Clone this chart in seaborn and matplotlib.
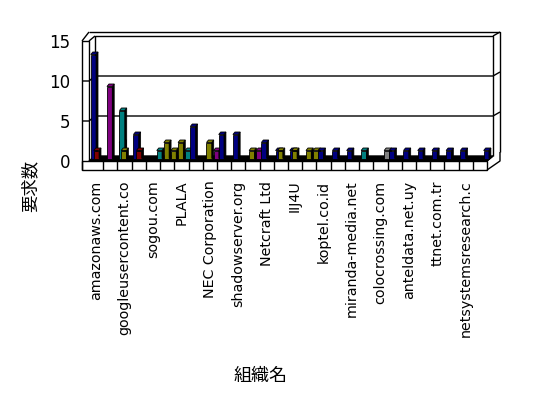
import matplotlib
matplotlib.use("Agg")
import matplotlib.pyplot as plt
import numpy as np
import seaborn as sns
from matplotlib.lines import Line2D
from matplotlib.patches import Polygon, Rectangle
from matplotlib.transforms import ScaledTranslation

# organisation names (only every other one is printed on the axis)
org_labels = ["amazonaws.com", "", "googleusercontent.co", "", "sogou.com", "",
              "PLALA", "", "NEC Corporation", "", "shadowserver.org", "",
              "Netcraft Ltd", "", "IIJ4U", "", "koptel.co.id", "",
              "miranda-media.net", "", "colocrossing.com", "", "anteldata.net.uy", "",
              "ttnet.com.tr", "", "netsystemsresearch.c", ""]

# request counts per organisation, one list per coloured series (0 = no bar)
navy   = [13, 0, 2, 3, 0, 0, 0, 4, 0, 3, 3, 0, 2, 1, 1, 0, 1, 1, 1, 0, 0, 1, 1, 1, 1, 1, 1, 0]
teal   = [0, 0, 6, 0, 0, 0, 0, 0, 0, 0, 0, 0, 0, 0, 0, 0, 0, 0, 0, 1, 0, 0, 0, 0, 0, 0, 0, 0]
purple = [0, 9, 0, 0, 0, 0, 0, 0, 0, 0, 0, 0, 0, 0, 0, 0, 0, 0, 0, 0, 0, 0, 0, 0, 0, 0, 0, 0]
olive  = [0, 0, 1, 0, 0, 2, 2, 0, 2, 0, 0, 1, 0, 1, 1, 1, 0, 0, 0, 0, 0, 0, 0, 0, 0, 0, 0, 0]
maroon = [1, 0, 0, 1, 0, 0, 0, 0, 0, 0, 0, 0, 0, 0, 0, 0, 0, 0, 0, 0, 0, 0, 0, 0, 0, 0, 0, 0]
# second (back) column of some organisations
olive_back  = [0, 0, 0, 0, 0, 1, 0, 0, 0, 0, 0, 0, 0, 0, 0, 1, 0, 0, 0, 0, 0, 0, 0, 0, 0, 0, 0, 0]
teal_back   = [0, 0, 0, 0, 1, 0, 1, 0, 0, 0, 0, 0, 0, 0, 0, 0, 0, 0, 0, 0, 0, 0, 0, 0, 0, 0, 0, 0]
purple_back = [0, 0, 0, 0, 0, 0, 0, 0, 1, 0, 0, 1, 0, 0, 0, 0, 0, 0, 0, 0, 0, 0, 0, 0, 0, 0, 0, 0]
gray_back   = [0, 0, 0, 0, 0, 0, 0, 0, 0, 0, 0, 0, 0, 0, 0, 0, 0, 0, 0, 0, 1, 0, 0, 0, 0, 0, 0, 0]
navy_back   = [0, 0, 0, 0, 0, 0, 0, 0, 0, 0, 0, 0, 0, 0, 0, 0, 0, 0, 0, 0, 0, 0, 0, 0, 0, 0, 0, 1]

y_ticks = [0, 5, 10, 15]

# (values, colour, offset inside the category slot), back columns first
series = [
    (olive_back, "#808000", 0.45), (teal_back, "#008080", 0.45),
    (purple_back, "#800080", 0.45), (gray_back, "#808080", 0.45),
    (navy_back, "#000080", 0.45),
    (navy, "#000080", -0.19), (teal, "#008080", -0.17),
    (purple, "#800080", -0.05), (olive, "#808000", -0.05),
    (maroon, "#800000", 0.02),
]

sns.set_theme(style="white", rc={"text.color": "black", "xtick.color": "black",
                                 "ytick.color": "black", "axes.labelcolor": "black"})
plt.rcParams["font.family"] = ["DejaVu Sans", "Noto Sans CJK JP"]
cjk = ["Noto Sans CJK JP", "DejaVu Sans"]

W, H = 548, 398
fig = plt.figure(figsize=(W / 100, H / 100), dpi=100)
fig.patch.set_facecolor("white")

# front plane of the floor in pixels, value scale of the columns
FX0, FX1 = 89, 487
Y0, PPU = 158.5, 8.0
ax = fig.add_axes([FX0 / W, (H - Y0) / H, (FX1 - FX0) / W, 15 * PPU / H], zorder=2)
ax.set_facecolor("none")

# 3d frame drawn in pixel coordinates behind the columns
bg = fig.add_axes([0, 0, 1, 1], zorder=1)
bg.set_xlim(0, W)
bg.set_ylim(H, 0)
bg.axis("off")


def yf(v):
    return Y0 + 2.5 - PPU * v


def yb(v):
    return Y0 - 2.5 - PPU * v


def seg(pts, lw=1.0):
    xs, ys = zip(*pts)
    bg.add_line(Line2D(xs, ys, color="black", lw=lw, solid_capstyle="butt"))


BX0, BX1 = FX0 + 6, FX1 + 6
# back wall
seg([(BX0, yb(0)), (BX0, yb(15)), (BX1, yb(15)), (BX1, yb(0))])
seg([(FX0, yb(15) - 4), (BX1 + 7, yb(15) - 4), (BX1 + 7, yb(0) - 4)])
seg([(BX1, yb(15)), (BX1 + 7, yb(15) - 4)])
for v in [5, 10]:
    seg([(BX0, yb(v)), (BX1, yb(v)), (BX1 + 7, yb(v) - 4)])
    seg([(FX0 - 7, yf(v)), (FX0, yf(v)), (BX0, yb(v))])
# left wall
seg([(FX0 - 7, 170), (FX0 - 7, yf(15)), (FX0, yf(15)), (FX0, yf(0))])
seg([(FX0 - 7, yf(15)), (FX0, yb(15) - 4)])
seg([(FX0, yf(15)), (BX0, yb(15))])
# floor
bg.add_patch(Polygon([(FX0, yf(0)), (FX1, yf(0)), (BX1, yb(0)), (BX0, yb(0))],
                     closed=True, facecolor="black", edgecolor="black", lw=1))
bg.add_patch(Rectangle((FX0 - 7, yf(0)), FX1 - FX0 + 7, 170 - yf(0),
                       facecolor="white", edgecolor="black", lw=1))
for xd in np.linspace(FX0, FX1, len(org_labels) + 1)[1:-1]:
    seg([(xd, yf(0)), (xd, 170)])
seg([(FX1, 170), (BX1 + 7, 161), (BX1 + 7, yb(0) - 4)])
seg([(FX1, yf(0)), (BX1, yb(0))])

# columns
pos = np.arange(len(org_labels))
DX, DY = 0.14, 2.5 / PPU
for vals, color, off in series:
    n0 = len(ax.patches)
    sns.barplot(x=pos + off, y=vals, native_scale=True, width=0.37, color=color,
                saturation=1, errorbar=None, edgecolor="black", linewidth=0.6, ax=ax)
    for p in list(ax.patches[n0:]):
        h = p.get_height()
        if h <= 0:
            p.remove()
            continue
        p.set_clip_on(False)
        x0, w = p.get_x(), p.get_width()
        side = Polygon([(x0 + w, 0), (x0 + w, h), (x0 + w + DX, h + DY), (x0 + w + DX, DY)],
                       closed=True, facecolor="black", edgecolor="black", lw=0.5, clip_on=False)
        top = Polygon([(x0, h), (x0 + w, h), (x0 + w + DX, h + DY), (x0 + DX, h + DY)],
                      closed=True, facecolor=color, edgecolor="black", lw=0.6, clip_on=False)
        ax.add_patch(side)
        ax.add_patch(top)

ax.set_xlim(-0.5, len(org_labels) - 0.5)
ax.set_ylim(0, 15)
for s in ax.spines.values():
    s.set_visible(False)
ax.grid(False)
ax.set_xticks(pos)
ax.set_xticklabels(org_labels, rotation=90, fontsize=10.3)
ax.set_yticks(y_ticks)
ax.set_yticklabels([str(t) for t in y_ticks], fontsize=12)
ax.tick_params(axis="x", length=0, pad=16)
ax.tick_params(axis="y", length=0, pad=13.5)
shift = ScaledTranslation(0, -2.5 / 100, fig.dpi_scale_trans)
for lab in ax.get_yticklabels():
    lab.set_transform(lab.get_transform() + shift)
ax.set_xlabel("")
ax.set_ylabel("")

fig.text(30 / W, 1 - 186 / H, "要求数", rotation=90, ha="center", va="center",
         fontsize=12.5, family=cjk)
fig.text(261 / W, 1 - 376 / H, "組織名", ha="center", va="center", fontsize=13, family=cjk)

fig.savefig("out.png", dpi=100, facecolor="white")
